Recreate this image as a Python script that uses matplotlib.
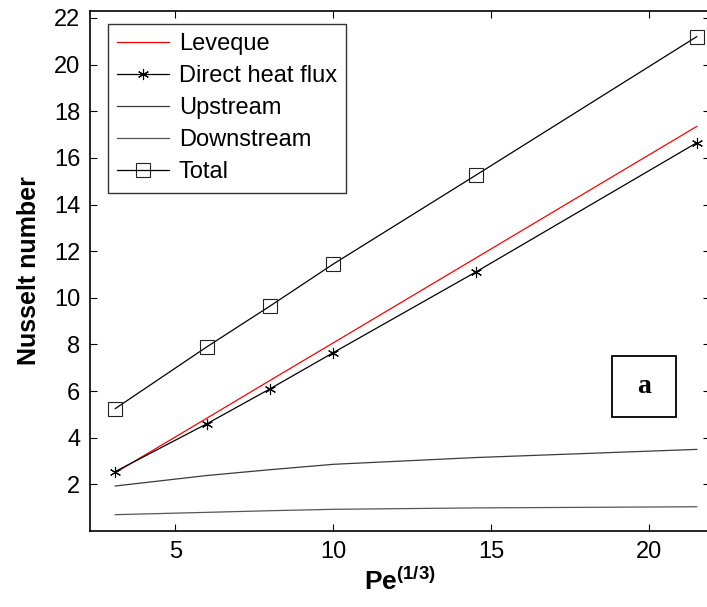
import matplotlib.pyplot as plt
from matplotlib.patches import Rectangle

plt.rcParams['font.family'] = ['Liberation Sans', 'DejaVu Sans']
plt.rcParams['mathtext.fontset'] = 'custom'
plt.rcParams['mathtext.rm'] = 'Liberation Sans'
plt.rcParams['mathtext.bf'] = 'Liberation Sans:bold'

# Data
pe = [3.1, 6, 8, 10, 14.5, 21.5]
leveque = [2.50, 4.84, 6.46, 8.07, 11.70, 17.35]
direct = [2.55, 4.60, 6.10, 7.65, 11.10, 16.65]
upstream = [1.93, 2.38, 2.63, 2.86, 3.15, 3.50]
downstream = [0.70, 0.80, 0.87, 0.93, 0.99, 1.04]
total = [5.25, 7.90, 9.65, 11.45, 15.25, 21.20]

fig = plt.figure(figsize=(7.07, 6.07), dpi=100)
ax = fig.add_axes([0.1273, 0.1252, 0.8770, 0.8567])

ax.plot(pe, leveque, color='red', lw=0.9, label='Leveque')
ax.plot(pe, direct, color='black', lw=0.9, marker=(6, 2, 0), ms=8, mew=0.8,
        label='Direct heat flux')
ax.plot(pe, upstream, color='#3a3a3a', lw=0.9, label='Upstream')
ax.plot(pe, downstream, color='#555555', lw=0.9, label='Downstream')
ax.plot(pe, total, color='black', lw=0.9, marker='s', ms=10, mfc='none',
        mec='#222222', mew=0.8, label='Total')

ax.set_xlim(2.3, 21.92)
ax.set_ylim(0, 22.3)
ax.set_xticks([5, 10, 15, 20])
ax.set_yticks(range(2, 23, 2))
ax.tick_params(direction='in', top=True, right=True, length=5, width=0.8,
               labelsize=17, pad=7)
for s in ax.spines.values():
    s.set_linewidth(1.2)

ax.set_xlabel('Pe$^{\\mathbf{(1/3)}}$', fontsize=19, fontweight='bold', labelpad=3)
ax.set_ylabel('Nusselt number', fontsize=18, fontweight='bold', labelpad=9)

leg = ax.legend(loc='upper left', bbox_to_anchor=(0.029, 0.975), borderaxespad=0,
                fontsize=17, frameon=True, fancybox=False, edgecolor='black',
                handlelength=2.2, labelspacing=0.42, borderpad=0.4,
                handletextpad=0.4)
leg.get_frame().set_linewidth(1.0)

# panel label box
ax.add_patch(Rectangle((0.842, 0.219), 0.103, 0.117, transform=ax.transAxes,
                       fill=False, edgecolor='black', lw=1.3))
ax.text(0.8935, 0.2775, 'a', transform=ax.transAxes, ha='center', va='center',
        fontsize=20, fontweight='bold', family='Liberation Serif')

fig.savefig('out.png', dpi=100)
